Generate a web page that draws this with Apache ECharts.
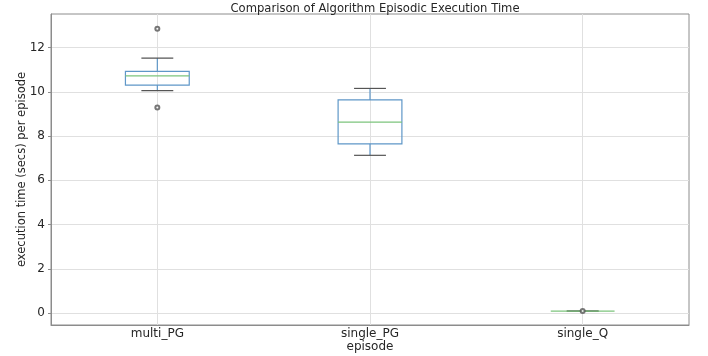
<!DOCTYPE html>
<html>
<head>
<meta charset="utf-8">
<script src="https://cdn.jsdelivr.net/npm/echarts@6/dist/echarts.min.js"></script>
<style>
  html, body { margin: 0; padding: 0; background: #fff; }
  #chart { width: 708px; height: 356px; }
</style>
</head>
<body>
<div id="chart"></div>
<script>
// categories and box stats [min, q1, median, q3, max]
const categories = ['multi_PG', 'single_PG', 'single_Q']
const boxStats = [
  [10.05, 10.30, 10.72, 10.92, 11.52],
  [7.13, 7.65, 8.63, 9.63, 10.15],
  [0.1, 0.1, 0.1, 0.1, 0.1]
]
// outliers as [categoryIndex, value]
const outliers = [
  [0, 12.84],
  [0, 9.29],
  [2, 0.1]
]
const yTicks = [0, 2, 4, 6, 8, 10, 12]

const boxColor = '#5f97c8'
const medianColor = '#7cc47c'
const capColor = '#555'

function renderBox (params, api) {
  const idx = api.value(0)
  const lo = api.coord([idx, api.value(1)])
  const q1 = api.coord([idx, api.value(2)])
  const med = api.coord([idx, api.value(3)])
  const q3 = api.coord([idx, api.value(4)])
  const hi = api.coord([idx, api.value(5)])
  const band = api.size([1, 0])[0]
  const w = band * 0.3
  const cw = w / 2
  const x = lo[0]
  const children = []
  if (q3[1] !== q1[1]) {
    children.push({
      type: 'rect',
      shape: { x: x - w / 2, y: q3[1], width: w, height: q1[1] - q3[1] },
      style: { fill: 'none', stroke: boxColor, lineWidth: 1.2 }
    })
  }
  children.push(
    { type: 'line', shape: { x1: x, y1: q3[1], x2: x, y2: hi[1] }, style: { stroke: boxColor, lineWidth: 1.2 } },
    { type: 'line', shape: { x1: x, y1: q1[1], x2: x, y2: lo[1] }, style: { stroke: boxColor, lineWidth: 1.2 } },
    { type: 'line', shape: { x1: x - cw / 2, y1: hi[1], x2: x + cw / 2, y2: hi[1] }, style: { stroke: capColor, lineWidth: 1.2 } },
    { type: 'line', shape: { x1: x - cw / 2, y1: lo[1], x2: x + cw / 2, y2: lo[1] }, style: { stroke: capColor, lineWidth: 1.2 } },
    { type: 'line', shape: { x1: x - w / 2, y1: med[1], x2: x + w / 2, y2: med[1] }, style: { stroke: medianColor, lineWidth: 1.2 } }
  )
  return { type: 'group', children: children }
}

const chart = echarts.init(document.getElementById('chart'))
const textColor = '#262626'
chart.setOption({
  animation: false,
  textStyle: { fontFamily: 'DejaVu Sans' },
  title: {
    text: 'Comparison of Algorithm Episodic Execution Time',
    left: 370,
    textAlign: 'center',
    top: -2,
    textStyle: { fontSize: 11.6, fontWeight: 'normal', color: textColor, fontFamily: 'DejaVu Sans' }
  },
  grid: {
    left: 51, right: 19, top: 14, bottom: 31,
    outerBoundsMode: 'none',
    containLabel: false,
    show: true, borderColor: '#8c8c8c', borderWidth: 1
  },
  xAxis: {
    type: 'category',
    data: categories,
    boundaryGap: true,
    name: 'episode',
    nameLocation: 'middle',
    nameGap: 16,
    nameMoveOverlap: false,
    nameTextStyle: { fontSize: 12, color: textColor },
    axisLine: { onZero: false, lineStyle: { color: '#8c8c8c' } },
    axisTick: { alignWithLabel: true, length: 3, lineStyle: { color: '#8c8c8c' } },
    axisLabel: { fontSize: 12, color: textColor, margin: 3 },
    splitLine: { show: true, alignWithLabel: true, lineStyle: { color: '#e0e0e0' } }
  },
  yAxis: {
    type: 'value',
    min: -0.53,
    max: 13.51,
    name: 'execution time (secs) per episode',
    nameLocation: 'middle',
    nameGap: 23,
    nameMoveOverlap: false,
    nameTextStyle: { fontSize: 11.5, color: textColor },
    axisLine: { show: true, onZero: false, lineStyle: { color: '#8c8c8c' } },
    axisTick: { show: true, length: 3, customValues: yTicks, lineStyle: { color: '#8c8c8c' } },
    axisLabel: { fontSize: 12, color: textColor, margin: 6, customValues: yTicks },
    splitLine: { show: true, lineStyle: { color: '#e0e0e0' } }
  },
  series: [
    {
      type: 'custom',
      renderItem: renderBox,
      encode: { x: 0, y: [1, 2, 3, 4, 5] },
      data: boxStats.map((s, i) => [i].concat(s)),
      z: 3
    },
    {
      type: 'scatter',
      symbol: 'emptyCircle',
      symbolSize: 4,
      itemStyle: { color: '#555', borderColor: '#555', borderWidth: 1 },
      data: outliers,
      z: 4
    }
  ]
})
</script>
</body>
</html>
